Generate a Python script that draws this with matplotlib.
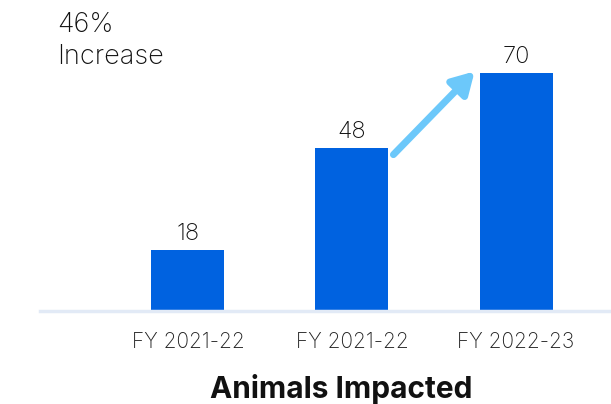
import matplotlib
matplotlib.use('Agg')
import matplotlib.pyplot as plt

# Data
categories = ['FY 2021-22', 'FY 2021-22', 'FY 2022-23']
values = [18, 48, 70]
increase_text = '46%\nIncrease'
title = 'Animals Impacted'

BAR_COLOR = '#0062E0'
ARROW_COLOR = '#6CC8FA'
BASE_COLOR = '#E2EAF6'

plt.rcParams['font.family'] = ['Inter', 'DejaVu Sans']

fig = plt.figure(figsize=(6.11, 4.04), dpi=100)
ax = fig.add_axes([40 / 611, 93 / 404, 571 / 611, 311 / 404])

x = list(range(len(values)))
width = 0.445
bars = ax.bar(x, values, width=width, color=BAR_COLOR, zorder=2)

for xi, v in zip(x, values):
    ax.text(xi, v + 1.5, str(v), ha='center', va='bottom', fontsize=17,
            fontweight='light', color='#111111')

# arrow between the 2nd and 3rd bar
ax.annotate('', xy=(x[2] - width / 2 - 0.03, values[2] + 0.5),
            xytext=(x[1] + width / 2 + 0.03, values[1] - 2),
            arrowprops=dict(arrowstyle='-|>,head_length=1.3,head_width=0.75',
                            color=ARROW_COLOR, lw=5, shrinkA=0, shrinkB=0))

ax.set_xlim(-0.902, 2.579)
ax.set_ylim(0, 91.5)
ax.set_xticks(x)
ax.set_xticklabels(categories, fontsize=15, fontweight='light', color='#222222')
ax.tick_params(axis='x', length=0, pad=15)
ax.set_yticks([])
for side in ['top', 'right', 'left']:
    ax.spines[side].set_visible(False)
ax.spines['bottom'].set_color(BASE_COLOR)
ax.spines['bottom'].set_linewidth(2.5)
ax.spines['bottom'].set_zorder(3)

fig.text(57 / 611, 1 - 12 / 404, increase_text, ha='left', va='top', fontsize=19.5,
         fontweight='light', color='#111111', linespacing=1.3)
fig.text(341 / 611, 1 - 389 / 404, title, ha='center', va='center', fontsize=21.5,
         fontweight='bold', color='#111111')

fig.savefig('out.png', dpi=100)
